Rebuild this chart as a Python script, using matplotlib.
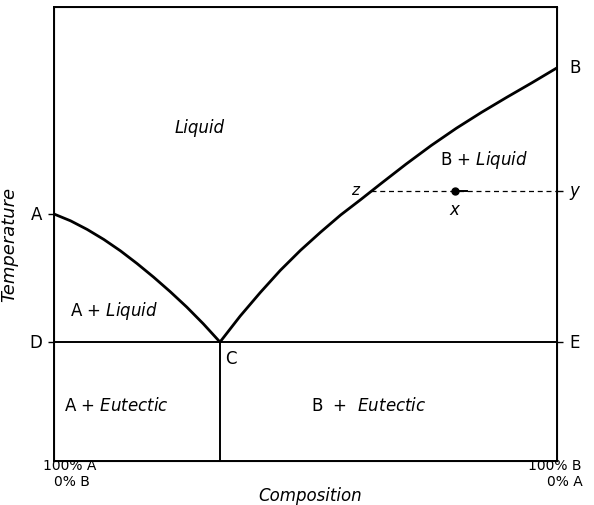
import matplotlib
matplotlib.use("Agg")
import matplotlib.pyplot as plt

# Data (composition % B, temperature arbitrary units)
left_x = [0, 3.3, 6.6, 9.9, 13.2, 16.5, 19.8, 23.1, 26.4, 29.7, 33.0]
left_t = [54.4, 52.9, 51.0, 48.8, 46.3, 43.5, 40.5, 37.3, 33.9, 30.2, 26.2]
right_x = [33.0, 37, 41, 45, 49, 53, 57, 61, 65, 70, 75, 80, 85, 90, 95, 100]
right_t = [26.2, 31.9, 37.1, 42.0, 46.4, 50.4, 54.2, 57.6, 61.1, 65.4, 69.5,
           73.3, 76.8, 80.1, 83.3, 86.6]
eutectic_t = 26.2
eutectic_x = 33.0
tie_t = 59.4
tie_x0 = 63.0
point_x = 79.7

fig = plt.figure(figsize=(5.94, 5.06), dpi=100)
ax = fig.add_axes([54/594, 1-462/506, (557-54)/594, (462-8)/506])
ax.set_xlim(0, 100)
ax.set_ylim(0, 100)
for s in ax.spines.values():
    s.set_linewidth(1.4)

ax.plot(left_x, left_t, color="black", lw=2.0, solid_capstyle="round", solid_joinstyle="round")
ax.plot(right_x, right_t, color="black", lw=2.0, solid_capstyle="round", solid_joinstyle="round")
ax.plot([0, 100], [eutectic_t, eutectic_t], color="black", lw=1.4)
ax.plot([eutectic_x, eutectic_x], [0, eutectic_t], color="black", lw=1.4)
ax.plot([tie_x0, 100], [tie_t, tie_t], color="black", lw=0.9, ls=(0, (4, 3)))
ax.plot([point_x], [tie_t], "o", color="black", ms=5)
ax.plot([point_x, point_x + 2.4], [tie_t, tie_t], color="black", lw=1.4)

ax.set_xticks([])
ax.set_yticks([left_t[0], eutectic_t])
ax.set_yticklabels([])
ax.tick_params(axis="y", direction="out", length=4, width=1)
axr = ax.twinx()
axr.set_ylim(0, 100)
axr.set_yticks([tie_t, eutectic_t])
axr.set_yticklabels([])
axr.tick_params(axis="y", direction="out", length=4, width=1)
axr.set_xticks([])

fs = 12
ax.text(-2.4, left_t[0], "A", ha="right", va="center", fontsize=fs)
ax.text(-2.4, eutectic_t, "D", ha="right", va="center", fontsize=fs)
ax.text(102.4, eutectic_t, "E", ha="left", va="center", fontsize=fs)
ax.text(102.4, right_t[-1] + 0.2, "B", ha="left", va="center", fontsize=fs)
ax.text(102.4, tie_t + 0.3, "y", ha="left", va="center", fontsize=fs, style="italic")
ax.text(tie_x0 - 2.3, tie_t + 0.3, "z", ha="right", va="center", fontsize=fs - 1, style="italic")
ax.text(point_x - 0.2, tie_t - 2.0, "x", ha="center", va="top", fontsize=fs, style="italic")
ax.text(eutectic_x + 1.0, eutectic_t - 1.5, "C", ha="left", va="top", fontsize=fs)

ax.text(29, 73.5, "Liquid", ha="center", va="center", fontsize=fs, style="italic")
ax.text(85.5, 66.5, "B + $\\it{Liquid}$", ha="center", va="center", fontsize=fs)
ax.text(12, 33.2, "A + $\\it{Liquid}$", ha="center", va="center", fontsize=fs)
ax.text(12.5, 12.3, "A + $\\it{Eutectic}$", ha="center", va="center", fontsize=fs)
ax.text(62.5, 12.3, "B  +  $\\it{Eutectic}$", ha="center", va="center", fontsize=fs)

ax.text(-9, 48, "Temperature", rotation=90, ha="center", va="center", fontsize=fs + 1, style="italic")

fig.text(70/594, 1-466/506, "100% A", ha="center", va="center", fontsize=10)
fig.text(72/594, 1-482/506, "0% B", ha="center", va="center", fontsize=10)
fig.text(555/594, 1-466/506, "100% B", ha="center", va="center", fontsize=10)
fig.text(565/594, 1-482/506, "0% A", ha="center", va="center", fontsize=10)
fig.text(310/594, 1-505/506, "Composition", ha="center", va="bottom", fontsize=fs, style="italic")

fig.savefig("out.png", dpi=100)
